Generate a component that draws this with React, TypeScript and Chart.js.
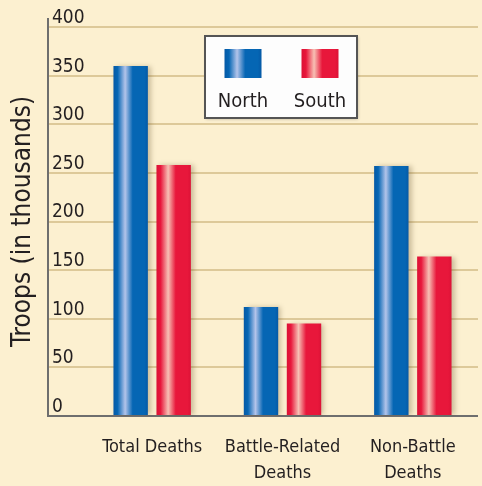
import React, { useEffect, useRef } from 'react';
import { Chart, registerables } from 'chart.js';

Chart.register(...registerables);

// ---- data ----
const categories: string[][] = [['Total Deaths'], ['Battle-Related', 'Deaths'], ['Non-Battle', 'Deaths']];
const seriesNames = ['North', 'South'];
const northValues = [360, 112, 257];
const southValues = [258, 95, 164];
const yMin = 0;
const yMax = 400;
const yStep = 50;
const yTitle = 'Troops (in thousands)';

// ---- style ----
const FONT = '"Liberation Sans Narrow", "DejaVu Sans Condensed", "Arial Narrow", sans-serif';
const TEXT = '#231f20';
const BG = '#fcf0d0';
const GRID = '#ddc999';
const AXIS = '#6e6e6e';
const TICK_LEN = 39;
const palettes = [
  { base: '#0566b4', dark: '#0559a6', hi: '#b3c4ea' },
  { base: '#e8173b', dark: '#dc1236', hi: '#f7c0b4' },
];

function makeGrad(ctx: CanvasRenderingContext2D, x0: number, w: number, p: { base: string; dark: string; hi: string }) {
  const g = ctx.createLinearGradient(x0, 0, x0 + w, 0);
  g.addColorStop(0, p.dark);
  g.addColorStop(0.12, p.base);
  g.addColorStop(0.34, p.hi);
  g.addColorStop(0.56, p.base);
  g.addColorStop(0.9, p.base);
  g.addColorStop(1, p.dark);
  return g;
}

const decor = {
  id: 'decor',
  beforeDatasetsDraw(chart: any) {
    const ctx = chart.ctx as CanvasRenderingContext2D;
    chart.data.datasets.forEach((_ds: any, i: number) => {
      const meta = chart.getDatasetMeta(i);
      meta.data.forEach((el: any) => {
        const { x, width } = el.getProps(['x', 'width'], true);
        el.options.backgroundColor = makeGrad(ctx, x - width / 2, width, palettes[i]);
      });
    });
    // y axis line
    const ys = chart.scales.y;
    const ax = ys.right - TICK_LEN;
    ctx.save();
    ctx.strokeStyle = AXIS;
    ctx.lineWidth = 2;
    ctx.beginPath();
    ctx.moveTo(ax, ys.top - 9);
    ctx.lineTo(ax, ys.bottom + 1);
    ctx.stroke();
    ctx.restore();
    // soft shadow for bars
    ctx.save();
    ctx.shadowColor = 'rgba(90,70,30,0.3)';
    ctx.shadowBlur = 5;
    ctx.shadowOffsetX = 3;
    ctx.shadowOffsetY = 0;
  },
  afterDatasetsDraw(chart: any) {
    chart.ctx.restore();
  },
  afterDraw(chart: any) {
    const ctx = chart.ctx as CanvasRenderingContext2D;
    const bx = 205, by = 36, bw = 152, bh = 82;
    ctx.save();
    ctx.shadowColor = 'rgba(0,0,0,0.25)';
    ctx.shadowBlur = 3;
    ctx.shadowOffsetX = 1;
    ctx.shadowOffsetY = 1;
    ctx.fillStyle = '#fdfdfd';
    ctx.fillRect(bx, by, bw, bh);
    ctx.restore();
    ctx.save();
    ctx.strokeStyle = '#555555';
    ctx.lineWidth = 2;
    ctx.strokeRect(bx, by, bw, bh);
    const centers = [243, 320];
    chart.data.datasets.forEach((ds: any, i: number) => {
      const cx = centers[i];
      const sw = 37, sh = 29;
      ctx.fillStyle = makeGrad(ctx, cx - sw / 2, sw, palettes[i]);
      ctx.fillRect(cx - sw / 2, 49, sw, sh);
      ctx.fillStyle = TEXT;
      ctx.font = '20px ' + FONT;
      ctx.textAlign = 'center';
      ctx.textBaseline = 'middle';
      ctx.fillText(ds.label, cx, 102);
    });
    ctx.restore();
  },
};

const bgPlugin = {
  id: 'bg',
  beforeDraw(chart: any) {
    const ctx = chart.ctx as CanvasRenderingContext2D;
    ctx.save();
    ctx.fillStyle = BG;
    ctx.fillRect(0, 0, chart.width, chart.height);
    ctx.restore();
  },
};

export default function App() {
  const ref = useRef<HTMLCanvasElement | null>(null);
  useEffect(() => {
    if (!ref.current) return;
    const chart = new Chart(ref.current, {
      type: 'bar',
      data: {
        labels: categories,
        datasets: [
          { label: seriesNames[0], data: northValues, backgroundColor: () => palettes[0].base, borderWidth: 0 },
          { label: seriesNames[1], data: southValues, backgroundColor: () => palettes[1].base, borderWidth: 0 },
        ],
      },
      options: {
        animation: false,
        responsive: false,
        maintainAspectRatio: false,
        devicePixelRatio: 1,
        layout: { padding: { top: 27, right: 4, bottom: 2, left: 0 } },
        datasets: { bar: { categoryPercentage: 0.66, barPercentage: 0.8 } },
        plugins: { legend: { display: false }, tooltip: { enabled: false } },
        scales: {
          x: {
            afterFit: (scale: any) => { scale.height = 68; },
            grid: { display: false, drawTicks: false },
            border: { display: false },
            ticks: { color: TEXT, font: { family: FONT, size: 18, lineHeight: 1.45 }, padding: 18, maxRotation: 0, autoSkip: false },
          },
          y: {
            min: yMin,
            max: yMax,
            afterFit: (scale: any) => { scale.width = 87; },
            grid: {
              color: (c: any) => (c.tick && c.tick.value === 0 ? AXIS : GRID),
              lineWidth: 2,
              drawTicks: true,
              tickLength: TICK_LEN,
              tickColor: (c: any) => (c.tick && c.tick.value === 0 ? AXIS : GRID),
            },
            border: { display: false },
            ticks: {
              stepSize: yStep,
              mirror: true,
              padding: -TICK_LEN + 4,
              labelOffset: -9,
              color: TEXT,
              font: { family: FONT, size: 19 },
            },
            title: {
              display: true,
              text: yTitle,
              color: TEXT,
              font: { family: FONT, size: 26, lineHeight: 1.2 },
              padding: { top: 8, bottom: 0 },
            },
          },
        },
      },
      plugins: [bgPlugin, decor],
    });
    return () => chart.destroy();
  }, []);
  return (
    <div style={{ position: 'fixed', left: 0, top: 0, width: 482, height: 486 }}>
      <canvas ref={ref} width={482} height={486} style={{ width: 482, height: 486, display: 'block' }} />
    </div>
  );
}
